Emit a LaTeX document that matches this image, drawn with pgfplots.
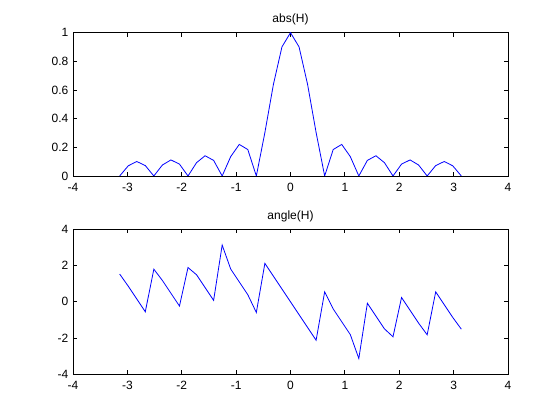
\documentclass[border=0pt]{standalone}
\usepackage{fontspec}
\setmainfont{Liberation Sans}
\usepackage{pgfplots}
\pgfplotsset{compat=1.18}
\begin{document}
\begin{tikzpicture}[x=1pt,y=1pt]
\path[use as bounding box, fill=white] (0,0) rectangle (560,420);
\pgfplotsset{
  mystyle/.style={
    scale only axis,
    width=435pt,
    anchor=south west,
    xmin=-4, xmax=4,
    xtick={-4,-3,-2,-1,0,1,2,3,4},
    tick align=inside,
    major tick length=4pt,
    axis line style={black, line width=0.8pt},
    every tick/.style={black, line width=0.8pt},
    font=\fontsize{12}{14}\selectfont,
    /pgf/number format/assume math mode=true,
    xticklabel style={anchor=base, yshift=-15.7pt, inner sep=0pt},
    yticklabel style={anchor=east, xshift=-4.5pt, inner sep=0pt},
    title style={at={(0.5,1)}, anchor=base, yshift=4pt, inner sep=0pt},
  }
}
\begin{axis}[mystyle, at={(73pt,244pt)}, height=143.3pt,
  ymin=0, ymax=1, ytick={0,0.2,0.4,0.6,0.8,1},
  yticklabels={0,0.2,0.4,0.6,0.8,1},
  title={abs(H)}]
\addplot[blue, line width=0.8pt, mark=none] coordinates {
(-3.1416,0) (-2.9845,0.0709) (-2.8274,0.1012) (-2.6704,0.0727) (-2.5133,0)
(-2.3562,0.0765) (-2.1991,0.1122) (-2.0420,0.0829) (-1.8850,0)
(-1.7279,0.0930) (-1.5708,0.1414) (-1.4137,0.1089) (-1.2566,0)
(-1.0996,0.1353) (-0.9425,0.2203) (-0.7854,0.1848) (-0.6283,0)
(-0.4712,0.3029) (-0.3142,0.6393) (-0.1571,0.9012) (0,1)
(0.1571,0.9012) (0.3142,0.6393) (0.4712,0.3029) (0.6283,0)
(0.7854,0.1848) (0.9425,0.2203) (1.0996,0.1353) (1.2566,0)
(1.4137,0.1089) (1.5708,0.1414) (1.7279,0.0930) (1.8850,0)
(2.0420,0.0829) (2.1991,0.1122) (2.3562,0.0765) (2.5133,0)
(2.6704,0.0727) (2.8274,0.1012) (2.9845,0.0709) (3.1416,0)
};
\end{axis}
\begin{axis}[mystyle, at={(73pt,45.7pt)}, height=145pt,
  ymin=-4, ymax=4, ytick={-4,-2,0,2,4},
  title={angle(H)}]
\addplot[blue, line width=0.8pt, mark=none] coordinates {
(-3.1416,1.53) (-2.9845,0.864) (-2.8274,0.157) (-2.6704,-0.549) (-2.5133,1.80)
(-2.3562,1.178) (-2.1991,0.471) (-2.0420,-0.236) (-1.8850,1.89)
(-1.7279,1.492) (-1.5708,0.785) (-1.4137,0.079) (-1.2566,3.13)
(-1.0996,1.807) (-0.9425,1.100) (-0.7854,0.393) (-0.6283,-0.59)
(-0.4712,2.121) (-0.3142,1.414) (-0.1571,0.707) (0,0)
(0.1571,-0.707) (0.3142,-1.414) (0.4712,-2.121) (0.6283,0.55)
(0.7854,-0.393) (0.9425,-1.100) (1.0996,-1.807) (1.2566,-3.13)
(1.4137,-0.079) (1.5708,-0.785) (1.7279,-1.492) (1.8850,-1.93)
(2.0420,0.236) (2.1991,-0.471) (2.3562,-1.178) (2.5133,-1.82)
(2.6704,0.549) (2.8274,-0.157) (2.9845,-0.864) (3.1416,-1.51)
};
\end{axis}
\end{tikzpicture}
\end{document}
